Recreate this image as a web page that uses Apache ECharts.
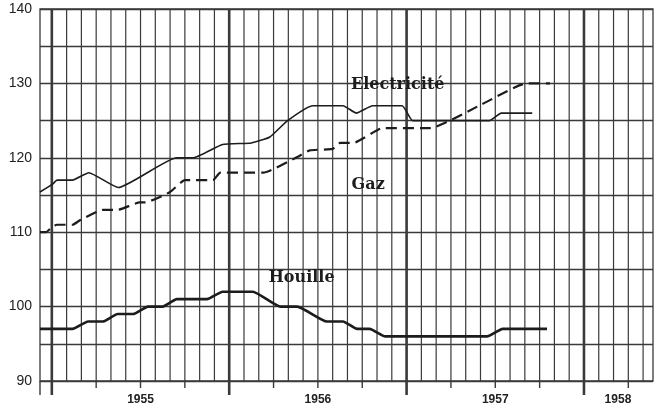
<!DOCTYPE html>
<html>
<head>
<meta charset="utf-8">
<script src="https://cdn.jsdelivr.net/npm/echarts@6/dist/echarts.min.js"></script>
<style>
  html, body { margin: 0; padding: 0; background: #fff; }
  #chart { width: 658px; height: 412px; }
</style>
</head>
<body>
<div id="chart"></div>
<script>
// x is measured in months, 0 = 1 January 1955
const X_MIN = -0.8;
const X_MAX = 40.67;
const Y_MIN = 90;
const Y_MAX = 140;

const yearLabels = ['1955', '1956', '1957', '1958'];
const yearLabelPos = [6, 18, 30, 38.3];

const elecMonths = [-0.8, 0.07, 0.35, 1.4, 2.5, 4.5, 8.45, 9.55, 11.55, 13.5, 14.75, 15.95, 17.65, 19.7, 20.6, 21.7, 23.7, 24.4, 26.0, 29.6, 30.4, 32.5];
const elecValues = [115.4, 116.5, 117, 117, 118, 116, 120, 120, 121.8, 122, 122.8, 125, 127, 127, 126, 127, 127, 125, 125, 125, 126, 126];

const gazMonths = [-0.8, -0.4, 0.07, 0.35, 1.4, 1.9, 3.45, 4.45, 5.95, 6.3, 8.0, 9.0, 10.9, 11.4, 14.3, 16.6, 17.45, 19.0, 19.5, 20.4, 22.4, 25.6, 29.1, 32.1, 33.7];
const gazValues = [110, 110, 110.8, 111, 111, 111.6, 113, 113, 114, 114, 115.4, 117, 117, 118, 118, 120.1, 121, 121.2, 122, 122, 124, 124, 127.2, 130, 130];

const houMonths = [-0.8, 1.4, 2.45, 3.45, 4.45, 5.5, 6.5, 7.5, 8.45, 10.5, 11.55, 13.6, 15.45, 16.6, 18.6, 19.7, 20.65, 21.5, 22.55, 29.45, 30.5, 33.5];
const houValues = [97, 97, 98, 98, 99, 99, 100, 100, 101, 101, 102, 102, 100, 100, 98, 98, 97, 97, 96, 96, 97, 97];

const ink = '#1c1c1c';
const gridInk = '#3a3a3a';
const sans = '"Liberation Sans", Arial, sans-serif';

// vertical month lines (index) and the left edge
const gridMonths = [];
for (let m = 0; m <= 40; m++) gridMonths.push([m, Y_MIN]);
gridMonths.push([X_MIN, Y_MIN]);

const pairs = (xs, ys) => xs.map((x, i) => [x, ys[i]]);

const annot = (text, coord) => ({
  data: [{ coord: coord, value: text }],
  symbol: 'rect',
  symbolSize: 1,
  itemStyle: { color: 'transparent' },
  label: {
    show: true,
    position: 'inside',
    formatter: text,
    color: ink,
    fontFamily: '"DejaVu Serif", serif',
    fontWeight: 'bold',
    fontSize: 16
  },
  silent: true
});

const chart = echarts.init(document.getElementById('chart'), null, { renderer: 'canvas' });

const option = {
  backgroundColor: '#ffffff',
  animation: false,
  grid: {
    left: 40, right: 5, top: 9, bottom: 31,
    show: true,
    borderColor: gridInk,
    borderWidth: 1.3,
    backgroundColor: 'transparent'
  },
  xAxis: {
    type: 'value',
    min: X_MIN,
    max: X_MAX,
    axisLine: { show: false },
    axisTick: { show: false },
    axisLabel: { show: false },
    splitLine: { show: false }
  },
  yAxis: {
    type: 'value',
    min: Y_MIN,
    max: Y_MAX,
    interval: 5,
    axisLine: { show: false },
    axisTick: { show: false },
    axisLabel: {
      color: '#222',
      fontFamily: sans,
      fontSize: 14,
      margin: 8,
      padding: [0, 0, 9, 0],
      formatter: v => (v % 10 === 0 ? String(v) : '')
    },
    splitLine: { show: true, lineStyle: { color: gridInk, width: 1.3 } }
  },
  series: [
    {
      type: 'custom',
      silent: true,
      clip: false,
      z: 1,
      encode: { x: 0, y: 1 },
      data: gridMonths,
      renderItem: (params, api) => {
        const m = api.value(0);
        const top = api.coord([m, Y_MAX]);
        const bot = api.coord([m, Y_MIN]);
        const isEdge = m === X_MIN;
        const isYear = !isEdge && m % 12 === 0;
        const isQuarter = !isEdge && m % 3 === 0;
        const children = [];
        if (!isEdge) {
          children.push({
            type: 'line',
            shape: { x1: top[0], y1: top[1], x2: bot[0], y2: bot[1] },
            style: { stroke: gridInk, lineWidth: isYear ? 2.6 : 1.2 }
          });
        }
        const tickLen = (isYear || isEdge) ? 14 : (isQuarter ? 7 : 0);
        if (tickLen) {
          children.push({
            type: 'line',
            shape: { x1: bot[0], y1: bot[1], x2: bot[0], y2: bot[1] + tickLen },
            style: { stroke: gridInk, lineWidth: isYear ? 2.6 : 1.4 }
          });
        }
        return { type: 'group', children: children };
      }
    },
    {
      type: 'custom',
      silent: true,
      clip: false,
      encode: { x: 0, y: 1 },
      data: yearLabelPos.map((p, i) => [p, Y_MIN, i]),
      renderItem: (params, api) => {
        const p = api.coord([api.value(0), Y_MIN]);
        return {
          type: 'text',
          x: p[0],
          y: p[1] + 19,
          style: {
            text: yearLabels[api.value(2)],
            fill: '#222',
            font: 'bold 12px "Liberation Sans", Arial, sans-serif',
            align: 'center',
            verticalAlign: 'middle'
          }
        };
      }
    },
    {
      name: 'Electricité',
      type: 'line',
      z: 3,
      data: pairs(elecMonths, elecValues),
      showSymbol: false,
      smooth: 0.15,
      lineStyle: { color: ink, width: 1.6 },
      markPoint: annot('Electricité', [23.4, 129.8])
    },
    {
      name: 'Gaz',
      type: 'line',
      z: 3,
      data: pairs(gazMonths, gazValues),
      showSymbol: false,
      smooth: 0.15,
      lineStyle: { color: ink, width: 2.2, type: [11, 6] },
      markPoint: annot('Gaz', [21.4, 116.3])
    },
    {
      name: 'Houille',
      type: 'line',
      z: 3,
      data: pairs(houMonths, houValues),
      showSymbol: false,
      smooth: 0.15,
      lineStyle: { color: ink, width: 2.6 },
      markPoint: annot('Houille', [16.9, 103.8])
    }
  ]
};

chart.setOption(option);
</script>
</body>
</html>
